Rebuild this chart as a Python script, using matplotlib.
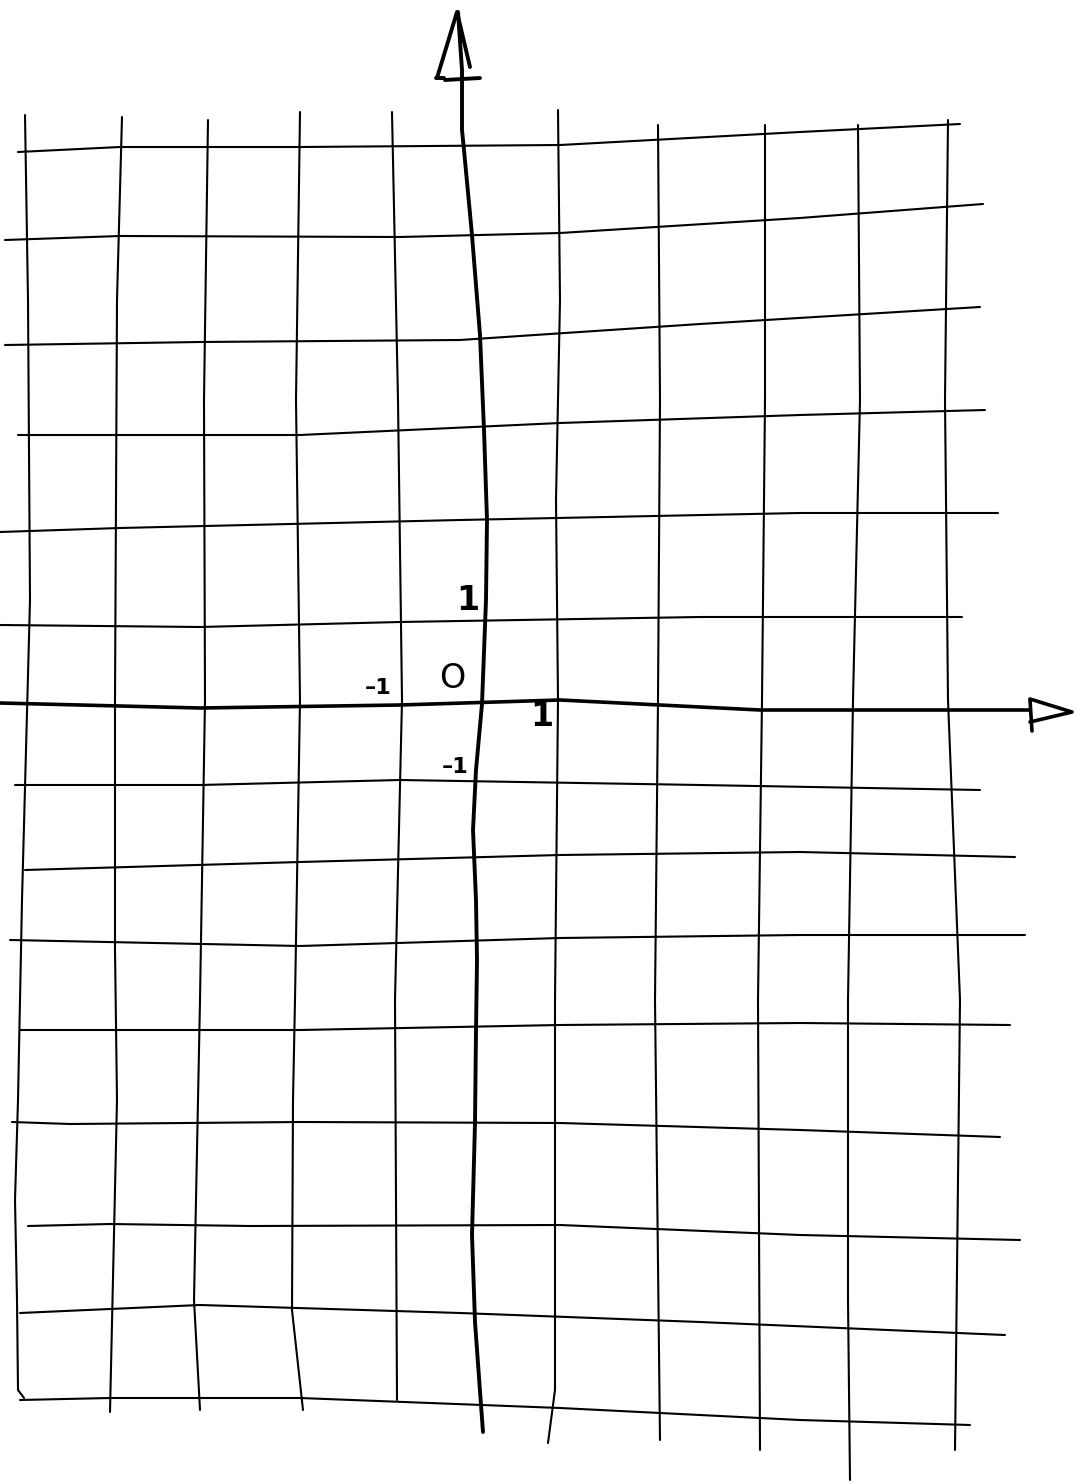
import matplotlib.pyplot as plt

# hand-drawn grid, points in pixel coords (x, y)
vertical_lines = [
    [(25, 115), (28, 300), (30, 600), (22, 900), (18, 1100), (15, 1200), (17, 1300), (18, 1390), (24, 1398)],
    [(122, 117), (117, 300), (115, 700), (115, 950), (117, 1100), (110, 1412)],
    [(208, 120), (204, 400), (205, 700), (200, 1000), (198, 1100), (194, 1300), (200, 1410)],
    [(300, 112), (296, 400), (300, 700), (295, 1000), (293, 1100), (292, 1310), (303, 1410)],
    [(392, 112), (398, 400), (402, 700), (395, 1000), (397, 1400)],
    [(558, 110), (560, 300), (556, 500), (558, 700), (555, 1000), (555, 1390), (548, 1443)],
    [(658, 125), (660, 400), (658, 700), (655, 1000), (660, 1440)],
    [(765, 125), (765, 400), (762, 700), (758, 1000), (760, 1450)],
    [(858, 125), (860, 400), (853, 700), (848, 1000), (848, 1300), (850, 1480)],
    [(948, 120), (945, 400), (948, 700), (960, 1000), (955, 1450)],
]

horizontal_lines = [
    [(18, 152), (120, 147), (300, 147), (560, 145), (800, 132), (960, 124)],
    [(5, 240), (120, 236), (400, 237), (560, 233), (800, 218), (983, 204)],
    [(5, 345), (200, 342), (460, 340), (700, 324), (980, 307)],
    [(18, 435), (300, 435), (560, 423), (800, 415), (985, 410)],
    [(0, 532), (120, 528), (460, 520), (800, 513), (998, 513)],
    [(0, 625), (200, 627), (400, 622), (700, 617), (962, 617)],
    [(15, 785), (200, 785), (400, 780), (700, 785), (980, 790)],
    [(25, 870), (300, 862), (560, 855), (800, 852), (1015, 857)],
    [(10, 940), (300, 946), (560, 938), (800, 935), (1025, 935)],
    [(20, 1030), (300, 1030), (560, 1025), (800, 1023), (1010, 1025)],
    [(12, 1122), (70, 1124), (300, 1122), (560, 1123), (800, 1130), (1000, 1137)],
    [(28, 1226), (110, 1224), (250, 1226), (560, 1225), (800, 1235), (1020, 1240)],
    [(20, 1313), (200, 1305), (460, 1313), (700, 1322), (1005, 1335)],
    [(20, 1400), (110, 1398), (300, 1398), (560, 1408), (800, 1420), (970, 1425)],
]

y_axis = [(458, 12), (462, 70), (462, 130), (464, 150), (472, 235), (480, 335),
          (484, 430), (487, 520), (486, 600), (482, 704), (476, 770), (473, 830),
          (476, 900), (477, 960), (476, 1031), (475, 1123), (472, 1235), (475, 1322),
          (481, 1405), (483, 1432)]
x_axis = [(0, 703), (200, 708), (400, 705), (560, 700), (760, 710), (1030, 710)]

y_arrow = [(437, 78), (457, 12), (470, 67)]
y_arrow_base = [(445, 80), (480, 78)]
y_arrow_stub = [(436, 78), (444, 78)]
x_arrow = [(1030, 699), (1072, 712), (1030, 722)]
x_arrow_base = [(1030, 700), (1032, 731)]

labels = ["1", "\u20131", "O", "1", "\u20131"]
label_pos = [(468, 600), (378, 688), (452, 679), (542, 717), (455, 767)]
label_size = [24, 16, 24, 24, 16]
label_weight = ["bold", "bold", "normal", "bold", "bold"]


def draw(ax, pts, lw):
    xs = [p[0] for p in pts]
    ys = [p[1] for p in pts]
    ax.plot(xs, ys, color="black", linewidth=lw, solid_capstyle="round",
            solid_joinstyle="round")


def main():
    fig = plt.figure(figsize=(10.84, 14.84), dpi=100)
    ax = fig.add_axes([0, 0, 1, 1])
    ax.set_xlim(0, 1084)
    ax.set_ylim(1484, 0)
    ax.axis("off")

    for line in vertical_lines + horizontal_lines:
        draw(ax, line, 1.5)

    draw(ax, y_axis, 2.8)
    draw(ax, x_axis, 2.6)
    draw(ax, y_arrow, 2.8)
    draw(ax, y_arrow_base, 2.8)
    draw(ax, y_arrow_stub, 2.8)
    draw(ax, x_arrow, 2.6)
    draw(ax, x_arrow_base, 2.6)

    for txt, (x, y), s, w in zip(labels, label_pos, label_size, label_weight):
        ax.text(x, y, txt, fontsize=s, fontweight=w, ha="center", va="center",
                color="black")

    fig.savefig("out.png", dpi=100, facecolor="white")
    plt.close(fig)


if __name__ == "__main__":
    main()
